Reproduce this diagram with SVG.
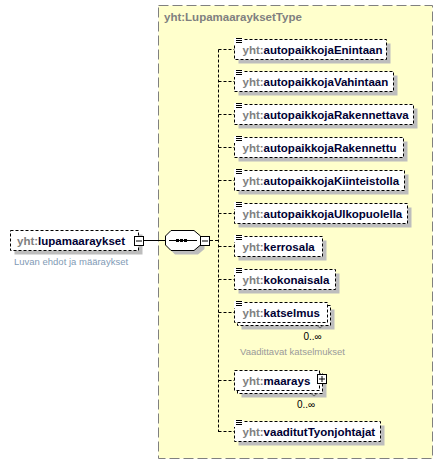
<svg xmlns="http://www.w3.org/2000/svg" width="442" height="464" viewBox="0 0 442 464">
<defs>
<style>
.el{fill:#fff;stroke:#000;stroke-width:1;stroke-dasharray:3,2}
.sh{fill:#bdbdbd}
.pre{fill:#808080}
.nm{font-family:"Liberation Sans",Arial,sans-serif;font-size:11.5px;font-weight:bold;fill:#000033}
.con{stroke:#000;stroke-width:1;fill:none;stroke-dasharray:3,2}
.ic{stroke:#000;stroke-width:1}
.btn{fill:#fff;stroke:#000;stroke-width:1}
.occ{font-family:"Liberation Sans",Arial,sans-serif;font-size:10px;fill:#000}
.doc{font-family:"Liberation Sans",Arial,sans-serif;font-size:9.5px}
</style>
<g id="icon">
<rect x="-1" y="-2" width="9" height="7" fill="#fff"/>
<line class="ic" x1="1" y1="-1.5" x2="7" y2="-1.5"/>
<line class="ic" x1="1" y1="0.5" x2="7" y2="0.5"/>
<line class="ic" x1="1" y1="2.5" x2="7" y2="2.5"/>
</g>
</defs>
<rect width="442" height="464" fill="#fff"/>

<g id="type">
<rect x="158.5" y="5.5" width="274" height="453" fill="#ffffcc" stroke="#808080" stroke-dasharray="10,4"/>
<text x="164" y="21" font-family="Liberation Sans,Arial,sans-serif" font-size="11.5px" font-weight="bold" fill="#808080">yht:LupamaarayksetType</text>
</g>

<g id="connectors">
<line x1="143.5" y1="240.5" x2="165.5" y2="240.5" stroke="#000"/>
<line class="con" x1="210" y1="240.5" x2="218.5" y2="240.5"/>
<line class="con" x1="218.5" y1="49.5" x2="218.5" y2="432"/>
<line class="con" x1="218.5" y1="49.5" x2="234.5" y2="49.5"/>
<line class="con" x1="218.5" y1="81.5" x2="234.5" y2="81.5"/>
<line class="con" x1="218.5" y1="114.5" x2="234.5" y2="114.5"/>
<line class="con" x1="218.5" y1="147.5" x2="234.5" y2="147.5"/>
<line class="con" x1="218.5" y1="180.5" x2="234.5" y2="180.5"/>
<line class="con" x1="218.5" y1="213.5" x2="234.5" y2="213.5"/>
<line class="con" x1="218.5" y1="246.5" x2="234.5" y2="246.5"/>
<line class="con" x1="218.5" y1="279.5" x2="234.5" y2="279.5"/>
<line class="con" x1="218.5" y1="312.5" x2="234.5" y2="312.5"/>
<line class="con" x1="218.5" y1="380.5" x2="234.5" y2="380.5"/>
<line class="con" x1="218.5" y1="431.5" x2="234.5" y2="431.5"/>
</g>

<g id="lupamaaraykset">
<rect class="sh" x="14.5" y="234.5" width="128" height="20"/>
<rect class="el" x="10.5" y="230.5" width="128" height="20"/>
<text class="nm" x="17" y="244.5"><tspan class="pre">yht:</tspan>lupamaaraykset</text>
<rect class="btn" x="134.5" y="236.5" width="9" height="9"/>
<line x1="136" y1="241" x2="142" y2="241" stroke="#000"/>
<text class="doc" x="14" y="265" fill="#7f9ab5">Luvan ehdot ja määraykset</text>
</g>

<g id="sequence">
<polygon class="sh" points="175,234.5 198,234.5 204.5,240 204.5,249 198,254.5 175,254.5 169.5,249 169.5,240"/>
<polygon points="171,230.5 194,230.5 200.5,236 200.5,245 194,250.5 171,250.5 165.5,245 165.5,236" fill="#fff" stroke="#000"/>
<line x1="169" y1="240.5" x2="197" y2="240.5" stroke="#000"/>
<rect x="176" y="239" width="3" height="3" fill="#000"/>
<rect x="180" y="239" width="3" height="3" fill="#000"/>
<rect x="184" y="239" width="3" height="3" fill="#000"/>
<rect class="btn" x="200.5" y="236.5" width="9" height="9"/>
<line x1="202" y1="241" x2="208" y2="241" stroke="#000"/>
</g>

<g id="autopaikkojaEnintaan">
<rect class="sh" x="238.5" y="43.5" width="152" height="20"/>
<rect class="el" x="234.5" y="39.5" width="152" height="20"/>
<use href="#icon" x="235" y="40"/>
<text class="nm" x="242.5" y="53.5"><tspan class="pre">yht:</tspan>autopaikkojaEnintaan</text>
</g>

<g id="autopaikkojaVahintaan">
<rect class="sh" x="238.5" y="75.5" width="159" height="20"/>
<rect class="el" x="234.5" y="71.5" width="159" height="20"/>
<use href="#icon" x="235" y="72"/>
<text class="nm" x="242.5" y="85.5"><tspan class="pre">yht:</tspan>autopaikkojaVahintaan</text>
</g>

<g id="autopaikkojaRakennettava">
<rect class="sh" x="238.5" y="108.5" width="179" height="20"/>
<rect class="el" x="234.5" y="104.5" width="179" height="20"/>
<use href="#icon" x="235" y="105"/>
<text class="nm" x="242.5" y="118.5"><tspan class="pre">yht:</tspan>autopaikkojaRakennettava</text>
</g>

<g id="autopaikkojaRakennettu">
<rect class="sh" x="238.5" y="141.5" width="169" height="20"/>
<rect class="el" x="234.5" y="137.5" width="169" height="20"/>
<use href="#icon" x="235" y="138"/>
<text class="nm" x="242.5" y="151.5"><tspan class="pre">yht:</tspan>autopaikkojaRakennettu</text>
</g>

<g id="autopaikkojaKiinteistolla">
<rect class="sh" x="238.5" y="174.5" width="170" height="20"/>
<rect class="el" x="234.5" y="170.5" width="170" height="20"/>
<use href="#icon" x="235" y="171"/>
<text class="nm" x="242.5" y="184.5"><tspan class="pre">yht:</tspan>autopaikkojaKiinteistolla</text>
</g>

<g id="autopaikkojaUlkopuolella">
<rect class="sh" x="238.5" y="207.5" width="173" height="20"/>
<rect class="el" x="234.5" y="203.5" width="173" height="20"/>
<use href="#icon" x="235" y="204"/>
<text class="nm" x="242.5" y="217.5"><tspan class="pre">yht:</tspan>autopaikkojaUlkopuolella</text>
</g>

<g id="kerrosala">
<rect class="sh" x="238.5" y="240.5" width="88" height="20"/>
<rect class="el" x="234.5" y="236.5" width="88" height="20"/>
<use href="#icon" x="235" y="237"/>
<text class="nm" x="242.5" y="250.5"><tspan class="pre">yht:</tspan>kerrosala</text>
</g>

<g id="kokonaisala">
<rect class="sh" x="238.5" y="273.5" width="101" height="20"/>
<rect class="el" x="234.5" y="269.5" width="101" height="20"/>
<use href="#icon" x="235" y="270"/>
<text class="nm" x="242.5" y="283.5"><tspan class="pre">yht:</tspan>kokonaisala</text>
</g>

<g id="katselmus">
<rect class="sh" x="241.5" y="309.5" width="93" height="20"/>
<rect class="el" x="237.5" y="305.5" width="93" height="20"/>
<rect class="el" x="234.5" y="302.5" width="93" height="20"/>
<use href="#icon" x="235" y="303"/>
<text class="nm" x="242.5" y="316.5"><tspan class="pre">yht:</tspan>katselmus</text>
<polyline points="317,325.5 320,328 323,325.5" fill="none" stroke="#666"/>
<text class="occ" x="303.5" y="340">0..∞</text>
<text class="doc" x="240" y="355" fill="#9a9a9a">Vaadittavat katselmukset</text>
</g>

<g id="maarays">
<rect class="sh" x="241.5" y="377.5" width="85" height="20"/>
<rect class="el" x="237.5" y="373.5" width="85" height="20"/>
<rect class="el" x="234.5" y="370.5" width="85" height="20"/>
<text class="nm" x="242.5" y="384.5"><tspan class="pre">yht:</tspan>maarays</text>
<rect class="btn" x="317.5" y="374.5" width="9" height="9"/>
<line x1="319" y1="379" x2="325" y2="379" stroke="#000"/>
<line x1="322" y1="376" x2="322" y2="382" stroke="#000"/>
<polyline points="311,393.5 314,396 317,393.5" fill="none" stroke="#666"/>
<text class="occ" x="297" y="408">0..∞</text>
</g>

<g id="vaaditutTyonjohtajat">
<rect class="sh" x="238.5" y="425.5" width="146" height="20"/>
<rect class="el" x="234.5" y="421.5" width="146" height="20"/>
<use href="#icon" x="235" y="422"/>
<text class="nm" x="242.5" y="435.5"><tspan class="pre">yht:</tspan>vaaditutTyonjohtajat</text>
</g>
</svg>
